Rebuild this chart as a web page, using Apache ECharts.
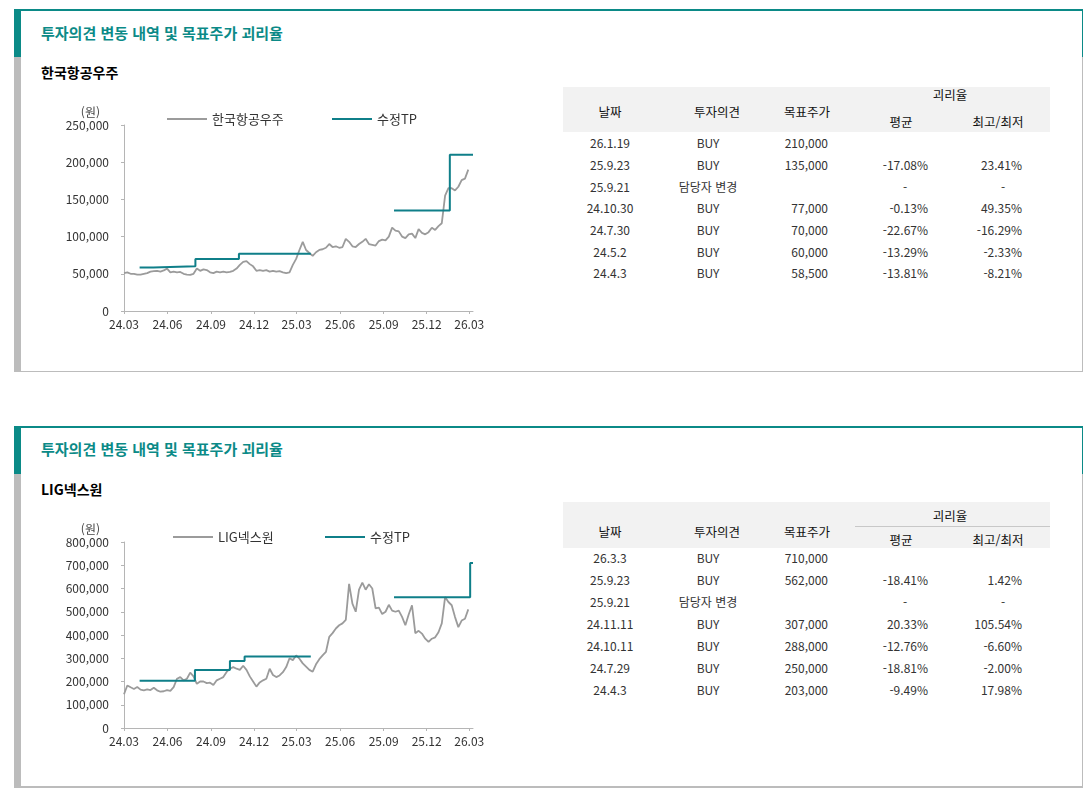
<!DOCTYPE html>
<html lang="ko">
<head>
<meta charset="utf-8">
<title>투자의견 변동 내역 및 목표주가 괴리율</title>
<script src="https://cdn.jsdelivr.net/npm/echarts@6/dist/echarts.min.js"></script>
<style>
  html, body { margin: 0; padding: 0; background: #fff; }
  body { width: 1092px; height: 800px; position: relative; overflow: hidden;
         font-family: "Noto Sans CJK KR", "Noto Sans", sans-serif; }
  .box { position: absolute; }
  .t { position: absolute; white-space: nowrap; line-height: 1; }
  #chart { position: absolute; left: 0; top: 0; width: 1092px; height: 800px; z-index: 2; }
</style>
</head>
<body>
<div id="chart"></div>
<script>
(function (window, echarts) {
    'use strict';

    const TEAL = '#0b8a87';
    const TP_COLOR = '#0f7f89';
    const PRICE_COLOR = '#9b9b9b';
    const FRAME_GRAY = '#bcbcbc';
    const AXIS_GRAY = '#b5b5b5';
    const FONT = '"Noto Sans CJK KR", "Noto Sans", sans-serif';

    const panelTitle = '투자의견 변동 내역 및 목표주가 괴리율';

    // quarterly x axis labels
    const tickDates = ['2024-03-01', '2024-06-01', '2024-09-01', '2024-12-01', '2025-03-01',
        '2025-06-01', '2025-09-01', '2025-12-01', '2026-03-01'];
    const axisStart = '2024-03-01';
    const axisEnd = '2026-03-09';

    // 한국항공우주: weekly closes starting 2024-03-01
    const kaiName = '한국항공우주';
    const kaiStart = '2024-03-01';
    const kaiPrices = [
        51000, 52000, 50000, 50000, 49000, 49000, 50000, 51000, 53000, 53500,
        54000, 53000, 54500, 57000, 52000, 53000, 52000, 52500, 50000, 49000,
        48500, 50000, 57000, 54000, 56000, 55000, 52000, 51000, 53000, 52000,
        53000, 52000, 52500, 54000, 57000, 62000, 66000, 67000, 63000, 60000,
        54000, 55000, 54000, 55000, 53000, 54000, 53000, 53500, 52000, 51000,
        52000, 62000, 70000, 82000, 93000, 82000, 78000, 74000, 79000, 82000,
        83000, 85000, 90000, 86000, 87000, 85000, 86000, 97000, 93000, 87000,
        86000, 90000, 93000, 97000, 90000, 89000, 88000, 94000, 96000, 95000,
        100000, 112000, 108000, 107000, 100000, 98000, 103000, 104000, 98000, 110000,
        105000, 103000, 106000, 112000, 109000, 114000, 118000, 155000, 165000, 165000,
        162000, 167000, 176000, 178000, 190000
    ];
    const kaiTpDates = ['2024-04-03', '2024-05-02', '2024-07-30', '2024-10-30', '2025-03-31', null,
        '2025-09-23', '2026-01-19', '2026-03-09'];
    const kaiTpValues = [58500, 60000, 70000, 77000, 77000, null, 135000, 210000, 210000];

    const kaiTableDates = ['26.1.19', '25.9.23', '25.9.21', '24.10.30', '24.7.30', '24.5.2', '24.4.3'];
    const kaiTableOpinions = ['BUY', 'BUY', '담당자 변경', 'BUY', 'BUY', 'BUY', 'BUY'];
    const kaiTableTargets = ['210,000', '135,000', '', '77,000', '70,000', '60,000', '58,500'];
    const kaiTableAvg = ['', '-17.08%', '-', '-0.13%', '-22.67%', '-13.29%', '-13.81%'];
    const kaiTableMaxMin = ['', '23.41%', '-', '49.35%', '-16.29%', '-2.33%', '-8.21%'];

    // LIG넥스원: weekly closes starting 2024-03-01
    const ligName = 'LIG넥스원';
    const ligStart = '2024-03-01';
    const ligPrices = [
        145000, 183000, 175000, 168000, 176000, 165000, 162000, 166000, 163000, 173000,
        162000, 156000, 158000, 163000, 160000, 176000, 212000, 219000, 205000, 212000,
        238000, 222000, 190000, 200000, 200000, 193000, 195000, 185000, 205000, 212000,
        219000, 241000, 255000, 262000, 255000, 250000, 268000, 250000, 222000, 200000,
        178000, 196000, 205000, 212000, 255000, 228000, 219000, 226000, 240000, 262000,
        300000, 292000, 312000, 298000, 278000, 264000, 250000, 242000, 274000, 296000,
        312000, 327000, 392000, 408000, 428000, 442000, 450000, 465000, 620000, 535000,
        500000, 595000, 625000, 595000, 618000, 600000, 515000, 518000, 490000, 500000,
        530000, 505000, 500000, 505000, 478000, 442000, 488000, 528000, 408000, 418000,
        406000, 384000, 370000, 384000, 390000, 412000, 450000, 563000, 542000, 528000,
        477000, 434000, 462000, 470000, 510000
    ];
    const ligTpDates = ['2024-04-03', '2024-07-29', '2024-10-11', '2024-11-11', '2025-03-31', null,
        '2025-09-23', '2026-03-03', '2026-03-09'];
    const ligTpValues = [203000, 250000, 288000, 307000, 307000, null, 562000, 710000, 710000];

    const ligTableDates = ['26.3.3', '25.9.23', '25.9.21', '24.11.11', '24.10.11', '24.7.29', '24.4.3'];
    const ligTableOpinions = ['BUY', 'BUY', '담당자 변경', 'BUY', 'BUY', 'BUY', 'BUY'];
    const ligTableTargets = ['710,000', '562,000', '', '307,000', '288,000', '250,000', '203,000'];
    const ligTableAvg = ['', '-18.41%', '-', '20.33%', '-12.76%', '-18.81%', '-9.49%'];
    const ligTableMaxMin = ['', '1.42%', '-', '105.54%', '-6.60%', '-2.00%', '17.98%'];

    const DAY = 86400000;
    const toTime = s => new Date(s + 'T00:00:00Z').getTime();
    const pad = n => (n < 10 ? '0' : '') + n;

    // ---------- html frame and tables ----------

    function box(x, y, w, h, color) {
        const el = document.createElement('div');
        el.className = 'box';
        el.style.cssText = 'left:' + x + 'px;top:' + y + 'px;width:' + w + 'px;height:' + h + 'px;background:' + color;
        document.body.appendChild(el);
    }

    function text(str, x, y, align, css) {
        const el = document.createElement('div');
        el.className = 't';
        el.textContent = str;
        el.style.cssText = css;
        el.style.left = x + 'px';
        el.style.top = y + 'px';
        const tx = align === 'right' ? '-100%' : (align === 'center' ? '-50%' : '0');
        el.style.transform = 'translate(' + tx + ',-50%)';
        document.body.appendChild(el);
    }

    function drawFrame(top, height, bottomWidth) {
        box(14, top, 1069, 2, TEAL);
        box(14, top, 7, height, FRAME_GRAY);
        box(14, top, 7, 48, TEAL);
        box(1082, top, 1, height, FRAME_GRAY);
        box(1082, top, 1, 48, TEAL);
        box(14, top + height - bottomWidth, 1069, bottomWidth, FRAME_GRAY);
    }

    const headCss = 'font-size:12.5px;color:#111;';
    const cellCss = 'font-size:12px;color:#333;';

    function drawTable(t, cols) {
        box(563, t.headTop, 487, t.headHeight, '#f2f2f2');
        if (t.splitLine) box(855, t.splitLine, 195, 1, '#c8c8c8');
        text('날짜', 610, t.headMid, 'center', headCss);
        text('투자의견', 717, t.headMid, 'center', headCss);
        text('목표주가', 807, t.headMid, 'center', headCss);
        text('괴리율', 950, t.headTop1, 'center', headCss);
        text('평균', 901, t.headTop2, 'center', headCss);
        text('최고/최저', 998, t.headTop2, 'center', headCss);

        cols.dates.forEach((d, i) => {
            const y = t.rowTop + i * t.rowStep;
            text(d, 610, y, 'center', cellCss);
            text(cols.opinions[i], 708, y, 'center', cellCss);
            if (cols.targets[i]) text(cols.targets[i], 828, y, 'right', cellCss);
            const avg = cols.avg[i];
            if (avg === '-') text(avg, 905, y, 'center', cellCss);
            else if (avg) text(avg, 928, y, 'right', cellCss);
            const mm = cols.maxMin[i];
            if (mm === '-') text(mm, 1003, y, 'center', cellCss);
            else if (mm) text(mm, 1022, y, 'right', cellCss);
        });
    }

    const titleCss = 'font-size:15px;font-weight:700;color:' + TEAL + ';';
    const subCss = 'font-size:14px;font-weight:700;color:#000;';

    drawFrame(9, 363, 1);
    text(panelTitle, 41, 31.5, 'left', titleCss);
    text(kaiName, 41, 72, 'left', subCss);
    drawTable(
        { headTop: 87, headHeight: 45, headMid: 111.7, headTop1: 95, headTop2: 121.7, rowTop: 143.3, rowStep: 21.67 },
        { dates: kaiTableDates, opinions: kaiTableOpinions, targets: kaiTableTargets, avg: kaiTableAvg, maxMin: kaiTableMaxMin }
    );

    drawFrame(426, 362, 2);
    text(panelTitle, 41, 447.5, 'left', titleCss);
    text(ligName, 41, 488.5, 'left', subCss);
    drawTable(
        { headTop: 502, headHeight: 46, headMid: 531.7, headTop1: 515.7, headTop2: 540, splitLine: 526, rowTop: 558.3, rowStep: 21.95 },
        { dates: ligTableDates, opinions: ligTableOpinions, targets: ligTableTargets, avg: ligTableAvg, maxMin: ligTableMaxMin }
    );

    // ---------- charts ----------

    const tickValues = tickDates.map(toTime);

    function weekly(start, values) {
        const t0 = toTime(start);
        return values.map((v, i) => [t0 + i * 7 * DAY, v]);
    }

    // split target price history into continuous segments
    function tpSegments(dates, values) {
        const segs = [[]];
        dates.forEach((d, i) => {
            if (d === null) segs.push([]);
            else segs[segs.length - 1].push([toTime(d), values[i]]);
        });
        return segs;
    }

    function xAxis(gridIndex) {
        return {
            type: 'value', gridIndex: gridIndex,
            min: toTime(axisStart), max: toTime(axisEnd),
            axisLine: { show: true, lineStyle: { color: AXIS_GRAY } },
            axisTick: { show: true, length: 3, customValues: tickValues, lineStyle: { color: AXIS_GRAY } },
            axisLabel: {
                customValues: tickValues, margin: 7, color: '#333', fontSize: 12, fontFamily: FONT,
                formatter: v => {
                    const d = new Date(v);
                    return String(d.getUTCFullYear()).slice(2) + '.' + pad(d.getUTCMonth() + 1);
                }
            },
            splitLine: { show: false }
        };
    }

    function yAxis(gridIndex, max, interval) {
        return {
            type: 'value', gridIndex: gridIndex, min: 0, max: max, interval: interval,
            name: '(원)', nameLocation: 'end', nameGap: 7,
            nameTextStyle: { align: 'right', padding: [0, 24, 0, 0], color: '#444', fontSize: 12, fontFamily: FONT },
            axisLine: { show: true, lineStyle: { color: AXIS_GRAY } },
            axisTick: { show: true, length: 3, lineStyle: { color: AXIS_GRAY } },
            axisLabel: {
                margin: 15, color: '#333', fontSize: 12, fontFamily: FONT,
                formatter: v => v.toLocaleString('en-US')
            },
            splitLine: { show: false }
        };
    }

    function legend(name, left, top) {
        return {
            data: [name], left: left, top: top, padding: 0,
            icon: 'rect', itemWidth: 40, itemHeight: 2, itemGap: 0,
            textStyle: { color: '#333', fontSize: 13, fontFamily: FONT, lineHeight: 16 }
        };
    }

    function priceSeries(name, idx, data) {
        return {
            type: 'line', name: name, xAxisIndex: idx, yAxisIndex: idx, data: data,
            symbol: 'none', color: PRICE_COLOR, lineStyle: { width: 1.8, color: PRICE_COLOR }, z: 2
        };
    }

    function tpSeries(idx, segs) {
        return segs.map(seg => ({
            type: 'line', name: '수정TP', xAxisIndex: idx, yAxisIndex: idx, data: seg, step: 'end',
            symbol: 'none', color: TP_COLOR, lineStyle: { width: 2, color: TP_COLOR }, z: 3
        }));
    }

    const options = {
        animation: false,
        textStyle: { fontFamily: FONT },
        grid: [
            { left: 124, top: 125, width: 349, height: 186 },
            { left: 124, top: 542, width: 349, height: 186 }
        ],
        legend: [
            legend(kaiName, 167, 111),
            legend('수정TP', 332, 111),
            legend(ligName, 173, 529),
            legend('수정TP', 325, 529)
        ],
        xAxis: [xAxis(0), xAxis(1)],
        yAxis: [yAxis(0, 250000, 50000), yAxis(1, 800000, 100000)],
        series: [].concat(
            priceSeries(kaiName, 0, weekly(kaiStart, kaiPrices)),
            tpSeries(0, tpSegments(kaiTpDates, kaiTpValues)),
            priceSeries(ligName, 1, weekly(ligStart, ligPrices)),
            tpSeries(1, tpSegments(ligTpDates, ligTpValues))
        )
    };

    const chart = echarts.init(document.getElementById('chart'), null, { renderer: 'canvas' });
    chart.setOption(options);

})(window, echarts);
</script>
</body>
</html>
